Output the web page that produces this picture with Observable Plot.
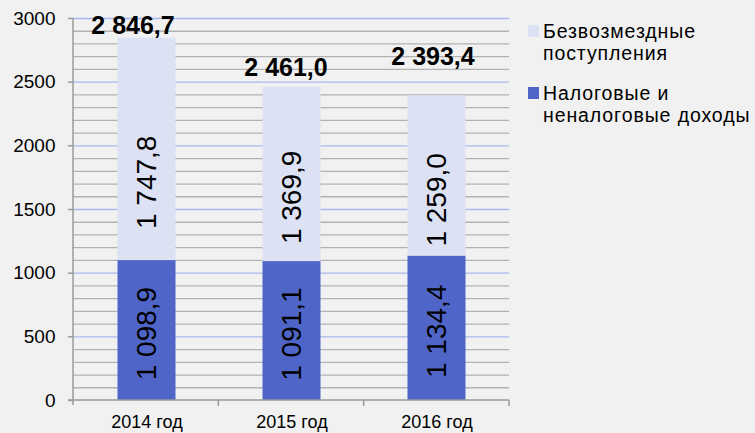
<!DOCTYPE html>
<html><head><meta charset="utf-8">
<script src="https://cdn.jsdelivr.net/npm/d3@7"></script>
<script src="https://cdn.jsdelivr.net/npm/@observablehq/plot@0.6"></script>
<style>
body{margin:0;background:#f1f1f1;}
#wrap{position:relative;width:755px;height:433px;font-family:"Liberation Sans",Arial,sans-serif;background:#f1f1f1;}
#wrap svg{position:absolute;left:0;top:0;}
.leg{position:absolute;left:528px;font-size:19.5px;line-height:22px;color:#000;}
.sw{position:absolute;left:0;width:11px;height:12px;}
.lt{position:absolute;left:15px;top:-9px;white-space:nowrap;letter-spacing:0.9px;}
</style></head><body><div id="wrap"></div>
<script>
const years = ["2014 год", "2015 год", "2016 год"];
const taxIncome = [1098.9, 1091.1, 1134.4];
const grants = [1747.8, 1369.9, 1259.0];
const totals = [2846.7, 2461.0, 2393.4];
const seriesNames = ["Налоговые и неналоговые доходы", "Безвозмездные поступления"];
const legendLines = [["Безвозмездные", "поступления"], ["Налоговые и", "неналоговые доходы"]];
const yTicks = [0, 500, 1000, 1500, 2000, 2500, 3000];

const colors = ["#4f66c8", "#dce1f4"];
const ru = d3.formatLocale({decimal: ",", thousands: " ", grouping: [3], currency: ["", ""]});
const fmt = ru.format(",.1f");

const rows = [];
years.forEach((y, i) => {
  rows.push({year: y, series: seriesNames[0], value: taxIncome[i]});
  rows.push({year: y, series: seriesNames[1], value: grants[i]});
});
const bottomLabels = years.map((y, i) => ({year: y, mid: taxIncome[i] / 2, text: fmt(taxIncome[i])}));
const topLabels = years.map((y, i) => ({year: y, mid: taxIncome[i] + grants[i] / 2, text: fmt(grants[i])}));
const totalLabels = years.map((y, i) => ({year: y, total: totals[i], text: fmt(totals[i])}));

const topShift = [33, 23, 24];
const totalShiftY = [-12, -19, -39];
const totalShiftX = [-14, -6, -4];

const minor = d3.range(100, 3001, 100).filter(v => v % 500 !== 0);

const frameMark = (index, scales, values, dims) => {
  const g = d3.create("svg:g");
  const {width, height, marginLeft, marginRight, marginTop, marginBottom} = dims;
  const x0 = marginLeft, x1 = width - marginRight, yb = height - marginBottom;
  const bw = (x1 - x0) / years.length;
  g.append("line").attr("x1", x0).attr("x2", x0).attr("y1", marginTop).attr("y2", yb + 5)
    .attr("stroke", "#9a9a9a").attr("stroke-width", 1.5);
  g.append("line").attr("x1", x0 - 5).attr("x2", x1).attr("y1", yb).attr("y2", yb)
    .attr("stroke", "#9a9a9a").attr("stroke-width", 1.5);
  for (let i = 1; i <= years.length; i++) {
    g.append("line").attr("x1", x0 + i * bw).attr("x2", x0 + i * bw).attr("y1", yb).attr("y2", yb + 6)
      .attr("stroke", "#9a9a9a").attr("stroke-width", 1.5);
  }
  return g.node();
};

const marks = [
  Plot.ruleY(minor, {stroke: "#b2b2b2", strokeWidth: 1.3}),
  Plot.ruleY(yTicks.filter(v => v > 0), {stroke: "#aab8ee", strokeWidth: 1.3}),
  Plot.barY(rows, {x: "year", y: "value", fill: "series", insetLeft: 43.5, insetRight: 43.5}),
  Plot.axisY({ticks: yTicks, tickSize: 5, tickPadding: 13, fontSize: 19, tickFormat: d => String(d), stroke: "#9a9a9a", strokeWidth: 1.5}),
  Plot.axisX({tickSize: 0, tickPadding: 15, fontSize: 18}),
  frameMark,
  Plot.text(bottomLabels, {x: "year", y: "mid", text: "text", rotate: -90, fontSize: 28, fill: "#000", dy: 3})
];
years.forEach((y, i) => {
  marks.push(Plot.text([topLabels[i]], {x: "year", y: "mid", text: "text", rotate: -90, fontSize: 28, fill: "#000", dy: topShift[i]}));
  marks.push(Plot.text([totalLabels[i]], {x: "year", y: "total", text: "text", fontSize: 25, fontWeight: "bold", fill: "#000", dy: totalShiftY[i], dx: totalShiftX[i]}));
});

const chart = Plot.plot({
  width: 755,
  height: 433,
  marginLeft: 73,
  marginRight: 246,
  marginTop: 18,
  marginBottom: 33,
  style: {background: "transparent", fontFamily: "'Liberation Sans', Arial, sans-serif", color: "#000"},
  x: {domain: years, padding: 0, label: null},
  y: {domain: [0, 3000], label: null},
  color: {domain: seriesNames, range: colors},
  marks
});
const wrap = document.getElementById("wrap");
wrap.appendChild(chart);

const legendTops = [29, 91];
const legendColors = [colors[1], colors[0]];
legendLines.forEach((lines, i) => {
  const d = document.createElement("div");
  d.className = "leg";
  d.style.top = legendTops[i] + "px";
  const sw = document.createElement("div");
  sw.className = "sw";
  sw.style.background = legendColors[i];
  sw.style.top = "-4px";
  d.appendChild(sw);
  const t = document.createElement("div");
  t.className = "lt";
  t.innerHTML = lines.join("<br>");
  d.appendChild(t);
  wrap.appendChild(d);
});
</script></body></html>
